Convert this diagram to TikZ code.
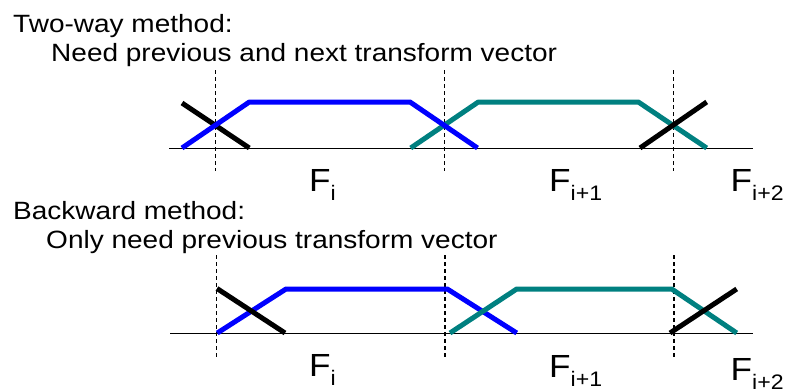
\documentclass[tikz,border=0pt]{standalone}
\usepackage{fontspec}
\setmainfont{Liberation Sans}
\definecolor{wblue}{RGB}{0,0,255}
\definecolor{wteal}{RGB}{0,128,128}
\begin{document}
\begin{tikzpicture}[x=1pt,y=-1pt,
  title/.style={anchor=base west,inner sep=0pt,xscale=1.12,transform shape,font=\fontsize{25}{25}\selectfont},
  flabel/.style={anchor=base west,inner sep=0pt,xscale=1.1,transform shape,font=\fontsize{32}{32}\selectfont},
  axis/.style={line width=1.6pt,black},
  sep/.style={dashed,line width=1.1pt,dash pattern=on 4pt off 3pt},
  win/.style={line width=5pt,line cap=butt,line join=bevel},
  bluewin/.style={win,wblue},
  tealwin/.style={win,wteal},
  blackwin/.style={win,black}]
\useasboundingbox (0,0) rectangle (786,389);
\newcommand{\sbs}[1]{\raisebox{-9pt}{\fontsize{21}{21}\selectfont #1}}

% texts
\node[title] (t1) at (13,32) {Two-way method:};
\node[title] (t2) at (51,61.5) {Need previous and next transform vector};
\node[title] (t3) at (13,219.5) {Backward method:};
\node[title] (t4) at (46,248.5) {Only need previous transform vector};

% ---------- top diagram ----------
\coordinate (a0) at (169,148.3);
\coordinate (a1) at (753,148.3);
\draw[axis] (a0) -- (a1);
\foreach \x [count=\k] in {215.7,444.3,673.3}{
  \draw[sep] (\x,70) coordinate (ts\k) -- (\x,171) coordinate (te\k);
}
\coordinate (b1) at (182,148);
\coordinate (b2) at (249.3,102);
\coordinate (b3) at (410,102);
\coordinate (b4) at (477.5,148);
\coordinate (c1) at (410.7,148);
\coordinate (c2) at (478.3,102);
\coordinate (c3) at (638.3,102);
\coordinate (c4) at (706.7,148);
\coordinate (k1) at (182,103);
\coordinate (k2) at (249.3,148);
\coordinate (k3) at (640,148);
\coordinate (k4) at (706.7,102);
\draw[blackwin] (k1) -- (k2);
\draw[tealwin] (c1) -- (c2) -- (c3) -- (c4);
\draw[bluewin] (b1) -- (b2) -- (b3) -- (b4);
\draw[blackwin] (k3) -- (k4);

\node[flabel] (f1) at (309,191.7) {F\sbs{i}};
\node[flabel] (f2) at (549,191.7) {F\sbs{i+1}};
\node[flabel] (f3) at (730.5,191.7) {F\sbs{i+2}};

% ---------- bottom diagram ----------
\coordinate (d0) at (170,333.3);
\coordinate (d1) at (753,333.3);
\draw[axis] (d0) -- (d1);
\foreach \x [count=\k] in {216.7,445,674}{
  \draw[sep] (\x,255) coordinate (bs\k) -- (\x,357) coordinate (be\k);
}
\coordinate (e1) at (217.3,333);
\coordinate (e2) at (286,289);
\coordinate (e3) at (447.3,289);
\coordinate (e4) at (516.7,333);
\coordinate (g1) at (450,333);
\coordinate (g2) at (516.7,289);
\coordinate (g3) at (671.7,289);
\coordinate (g4) at (736.7,333);
\coordinate (m1) at (217,288.5);
\coordinate (m2) at (285,333);
\coordinate (m3) at (670,333);
\coordinate (m4) at (736.7,289);
\draw[bluewin] (e1) -- (e2) -- (e3) -- (e4);
\draw[blackwin] (m1) -- (m2);
\draw[tealwin] (g1) -- (g2) -- (g3) -- (g4);
\draw[blackwin] (m3) -- (m4);

\node[flabel] (h1) at (309,376.7) {F\sbs{i}};
\node[flabel] (h2) at (549,377.7) {F\sbs{i+1}};
\node[flabel] (h3) at (730.5,380) {F\sbs{i+2}};
\end{tikzpicture}
\end{document}
